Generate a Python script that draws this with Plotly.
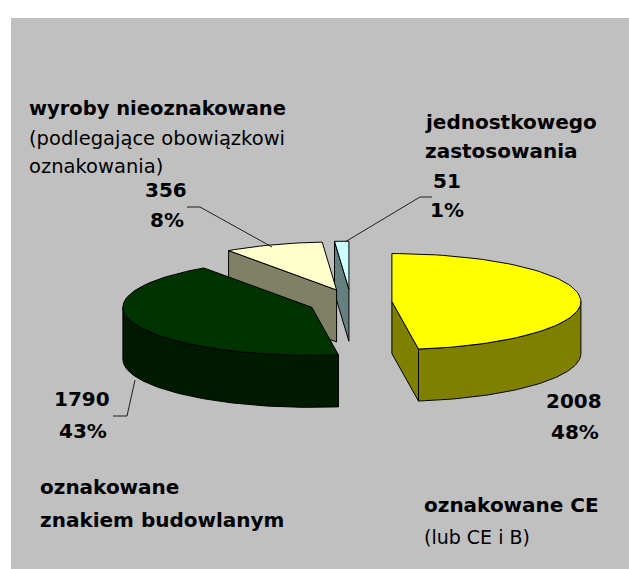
import numpy as np
import plotly.graph_objects as go

# ---------------- data ----------------
categories = ["oznakowane CE", "oznakowane znakiem budowlanym",
              "wyroby nieoznakowane", "jednostkowego zastosowania"]
values = [2008, 1790, 356, 51]
top_colors = ["#FFFF00", "#003300", "#FFFFCC", "#CCFFFF"]
side_colors = ["#808000", "#001A00", "#808066", "#668080"]

# ---------------- 3D pie geometry (pixel-like data units) ----------------
CX, CY = 350.5, 302.5     # pie centre
A, B = 189.0, 48.0        # ellipse radii of the top face
DEPTH = 52.0              # thickness
EX, EY = 41.5, 13.3       # explosion offsets
N = 80

total = float(sum(values))
fracs = [v / total for v in values]
starts = np.concatenate([[0.0], np.cumsum(fracs)[:-1]]) * 360.0
ends = starts + np.array(fracs) * 360.0


def rim(cx, cy, th):
    t = np.radians(th)
    return cx + A * np.sin(t), cy - B * np.cos(t)


fig = go.Figure()

slices = []
for i, (t0, t1) in enumerate(zip(starts, ends)):
    mid = np.radians((t0 + t1) / 2)
    cx = CX + EX * np.sin(mid)
    cy = CY - EY * np.cos(mid)
    slices.append((cy, i, cx, t0, t1))
slices.sort()


def add_poly(xs, ys, color):
    fig.add_trace(go.Scatter(x=list(xs) + [xs[0]], y=list(ys) + [ys[0]],
                             mode="lines", fill="toself", fillcolor=color,
                             line=dict(color="black", width=1),
                             hoverinfo="skip", showlegend=False))


for cy, i, cx, t0, t1 in slices:
    side = side_colors[i]
    # radial faces
    for th, visible in ((t0, np.sin(np.radians(t0)) < -1e-6),
                        (t1, np.sin(np.radians(t1)) > 1e-6)):
        if visible:
            rx, ry = rim(cx, cy, th)
            add_poly([cx, rx, rx, cx], [cy, ry, ry + DEPTH, cy + DEPTH], side)
    # outer curved side (front part only)
    a0, a1 = max(t0, 90.0), min(t1, 270.0)
    if a1 > a0:
        th = np.linspace(a0, a1, N)
        rx, ry = rim(cx, cy, th)
        xs = np.concatenate([rx, rx[::-1]])
        ys = np.concatenate([ry, (ry + DEPTH)[::-1]])
        add_poly(xs, ys, side)
    # top face
    th = np.linspace(t0, t1, max(4, int(N * (t1 - t0) / 180) + 2))
    rx, ry = rim(cx, cy, th)
    add_poly(np.concatenate([[cx], rx]), np.concatenate([[cy], ry]), top_colors[i])

# ---------------- labels ----------------
pcts = [f"{round(v / total * 100)}%" for v in values]
FONT = "DejaVu Sans"
BOLD = 20
NORM = 20


def txt(x, y, s, size=BOLD, anchor="center", bold=True):
    fig.add_annotation(x=x, y=y, text=(f"<b>{s}</b>" if bold else s),
                       showarrow=False, xanchor=anchor, yanchor="middle",
                       font=dict(family=FONT, size=size, color="black"))


# value / percent labels
txt(574, 401, str(values[0])); txt(575, 432, pcts[0])
txt(82, 399, str(values[1]));  txt(83, 431, pcts[1])
txt(166, 190, str(values[2])); txt(167, 220, pcts[2])
txt(447, 181, str(values[3])); txt(447, 210, pcts[3])

# category labels
txt(27, 108, "wyroby nieoznakowane", size=19.5, anchor="left")
txt(27, 138, "(podlegające obowiązkowi", size=19.5, anchor="left", bold=False)
txt(27, 166, "oznakowania)", size=19.5, anchor="left", bold=False)
txt(423, 122, "jednostkowego", anchor="left")
txt(423, 151, "zastosowania", anchor="left")
txt(38, 487, "oznakowane", anchor="left")
txt(38, 520, "znakiem budowlanym", anchor="left")
txt(422, 505, "oznakowane CE", anchor="left")
txt(422, 537, "(lub CE i B)", size=19, anchor="left", bold=False)

# leader lines
for path in ("M187,207 L200,207 L272,247",
             "M432,197 L420,197 L345,242",
             "M135,380 L127,416 L113,416"):
    fig.add_shape(type="path", path=path, xref="x", yref="y",
                  line=dict(color="#202020", width=1))

fig.update_layout(
    width=629, height=569,
    margin=dict(l=11, r=0, t=18, b=0, pad=0),
    paper_bgcolor="white", plot_bgcolor="#C0C0C0",
    xaxis=dict(range=[11, 629], visible=False, fixedrange=True),
    yaxis=dict(range=[569, 18], visible=False, fixedrange=True),
    showlegend=False,
)

fig.write_html("out.html",
               config={"displayModeBar": False, "staticPlot": True},
               post_script="document.body.style.margin='0px';"
                           "document.body.style.overflow='hidden';")
